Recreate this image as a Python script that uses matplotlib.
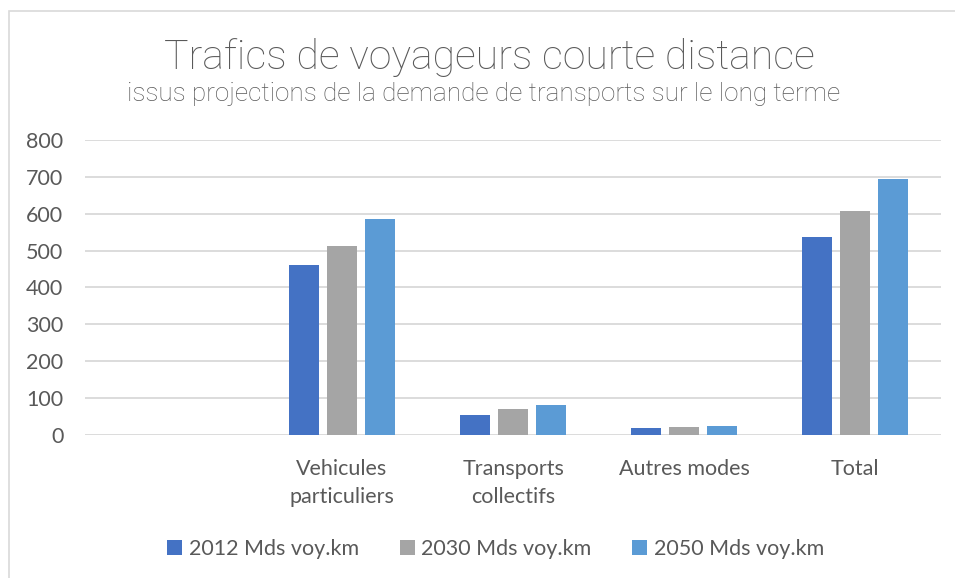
import matplotlib.pyplot as plt
import numpy as np
from matplotlib.patches import Rectangle

categories = ['', 'Vehicules\nparticuliers', 'Transports\ncollectifs', 'Autres modes', 'Total']
series_names = ['2012 Mds voy.km', '2030 Mds voy.km', '2050 Mds voy.km']
v2012 = [0, 462, 54, 19, 537]
v2030 = [0, 512, 70, 23, 607]
v2050 = [0, 585, 81, 25, 694]
colors = ['#4472C4', '#A5A5A5', '#5B9BD5']

txt = '#595959'
plt.rcParams['font.family'] = ['Lato', 'DejaVu Sans']

fig = plt.figure(figsize=(9.55, 5.78), dpi=100)
ax = fig.add_axes([0.0895, 0.2474, 0.8955, 0.5106])

# outer chart frame
fig.patches.append(Rectangle((9 / 955, -0.1), 1.2, 1 - 11 / 578 + 0.1,
                             transform=fig.transFigure, fill=False,
                             edgecolor='#d9d9d9', lw=1.2))

x = np.arange(len(categories))
w = 0.175
step = 0.222
for i, (vals, name) in enumerate(zip([v2012, v2030, v2050], series_names)):
    ax.bar(x + (i - 1) * step, vals, w, color=colors[i], label=name, zorder=3)

ax.set_xlim(-0.5, len(categories) - 0.5)
ax.set_ylim(0, 800)
ax.set_yticks(range(0, 801, 100))
ax.set_xticks(x)
ax.set_xticklabels(categories, fontsize=15.5, color=txt, linespacing=1.5)
ax.tick_params(axis='both', length=0, labelsize=15.5, colors=txt)
ax.tick_params(axis='y', pad=16)
ax.tick_params(axis='x', pad=17)
ax.grid(axis='y', color='#d9d9d9', lw=1.3, zorder=0)
for s in ax.spines.values():
    s.set_visible(False)

fig.text(0.512, 0.9, 'Trafics de voyageurs courte distance', ha='center', va='center',
         fontsize=29.5, color=txt, family=['Roboto', 'DejaVu Sans'], weight='light')
fig.text(0.506, 0.838, 'issus projections de la demande de transports sur le long terme',
         ha='center', va='center', fontsize=18.8, color=txt,
         family=['Roboto', 'DejaVu Sans'], weight='light')

fig.legend(loc='center', bbox_to_anchor=(0.519, 0.05), ncol=3, frameon=False,
           fontsize=15.5, labelcolor=txt, handlelength=0.7, handleheight=0.7,
           handletextpad=0.3, columnspacing=1.9)

fig.savefig('out.png', dpi=100)
